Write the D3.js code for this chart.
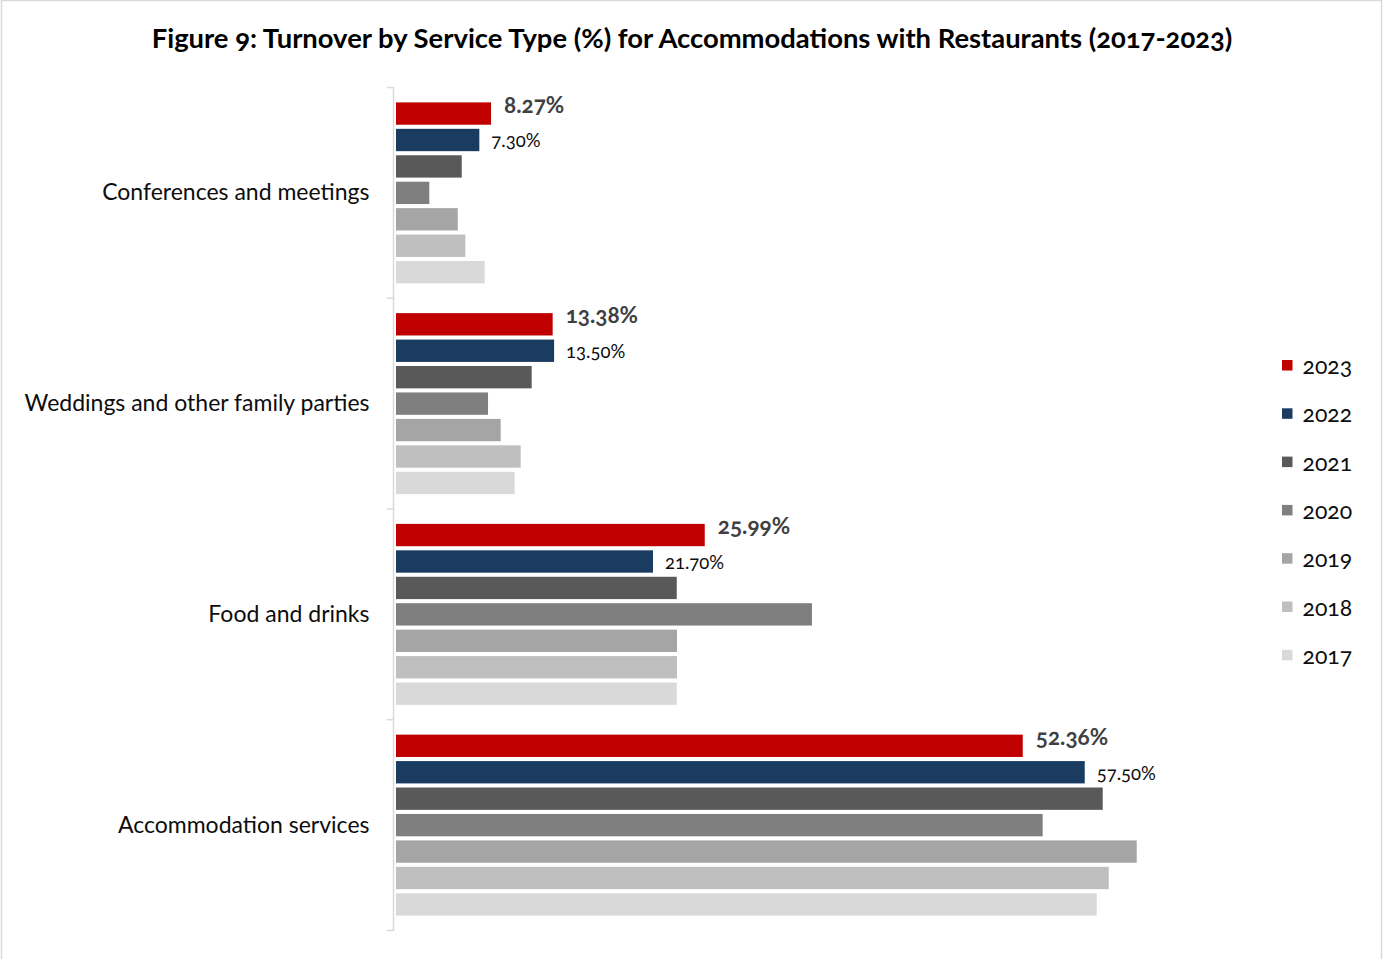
<!DOCTYPE html>
<html>
<head>
<meta charset="utf-8">
<script src="https://cdn.jsdelivr.net/npm/d3@7"></script>
<style>
  body { margin: 0; background: #fff; }
  svg text {
    font-family: Lato, "Open Sans", "Noto Sans", sans-serif;
    font-variant-numeric: oldstyle-nums;
    font-feature-settings: "onum" 1;
  }
</style>
</head>
<body>
<svg id="chart" width="1383" height="959"></svg>
<script>
// Turnover share by service type, one bar per year inside each category
const categories = ["Conferences and meetings", "Weddings and other family parties", "Food and drinks", "Accommodation services"];
const years = ["2023", "2022", "2021", "2020", "2019", "2018", "2017"];
const v2023 = [8.27, 13.38, 25.99, 52.36];
const v2022 = [7.30, 13.50, 21.70, 57.50];
const v2021 = [5.84, 11.64, 23.67, 58.99];
const v2020 = [3.15, 8.02, 34.88, 54.01];
const v2019 = [5.51, 9.07, 23.69, 61.81];
const v2018 = [6.14, 10.73, 23.69, 59.49];
const v2017 = [7.74, 10.23, 23.67, 58.49];
const yearColors = ["#c00000", "#1b3c61", "#595959", "#7f7f7f", "#a5a5a5", "#bfbfbf", "#d9d9d9"];
const titleText = "Figure 9: Turnover by Service Type (%) for Accommodations with Restaurants (2017-2023)";

const seriesByYear = { "2023": v2023, "2022": v2022, "2021": v2021, "2020": v2020, "2019": v2019, "2018": v2018, "2017": v2017 };
const rows = [];
categories.forEach((c, ci) => years.forEach(y => rows.push({ cat: c, year: y, value: seriesByYear[y][ci] })));

const svg = d3.select("#chart");

// outer frame of the chart area
svg.append("rect")
  .attr("x", 1.5).attr("y", 0.5).attr("width", 1380).attr("height", 980)
  .attr("fill", "none").attr("stroke", "#d9d9d9").attr("stroke-width", 1.5);

// title
svg.append("text")
  .attr("x", 692).attr("y", 48)
  .attr("text-anchor", "middle")
  .attr("font-weight", 700).attr("font-size", 27.4).attr("fill", "#000")
  .text(titleText);

// scales
const x = d3.scaleLinear().domain([0, 70]).range([391.3, 1235.5]);
const y0 = d3.scaleBand().domain(categories).range([87.5, 930.5]).padding(0);
const y1 = d3.scaleBand().domain(years).range([0, y0.bandwidth()])
  .paddingInner(0.155).paddingOuter(0.563);
const color = d3.scaleOrdinal().domain(years).range(yearColors);

const barStart = x(0) + 4.7;
const axisX = x(0) + 2.2;

// bars
svg.append("g").selectAll("rect")
  .data(rows)
  .join("rect")
  .attr("x", barStart)
  .attr("y", d => y0(d.cat) + y1(d.year))
  .attr("width", d => x(d.value) - barStart)
  .attr("height", y1.bandwidth())
  .attr("fill", d => color(d.year));

// category axis: line with ticks at the category boundaries
const axisG = svg.append("g");
axisG.append("line")
  .attr("x1", axisX).attr("x2", axisX)
  .attr("y1", y0.range()[0]).attr("y2", y0.range()[1])
  .attr("stroke", "#d9d9d9").attr("stroke-width", 1.5);
const bounds = categories.map(c => y0(c)).concat([y0.range()[1]]);
axisG.selectAll("line.tick").data(bounds).join("line")
  .attr("class", "tick")
  .attr("x1", axisX - 6.5).attr("x2", axisX)
  .attr("y1", d => d).attr("y2", d => d)
  .attr("stroke", "#d9d9d9").attr("stroke-width", 1.5);

// category labels through a d3 axis
const labelAxis = svg.append("g")
  .attr("transform", `translate(${axisX},0)`)
  .call(d3.axisLeft(y0).tickSize(0).tickPadding(24));
labelAxis.select(".domain").remove();
labelAxis.selectAll("text")
  .attr("font-size", 23).attr("fill", "#0d0d0d")
  .attr("font-family", null);

// value labels for the two most recent years
const lab23 = rows.filter(d => d.year === "2023");
const lab22 = rows.filter(d => d.year === "2022");
svg.append("g").selectAll("text").data(lab23).join("text")
  .attr("x", d => x(d.value) + 13)
  .attr("y", d => y0(d.cat) + y1(d.year) + y1.bandwidth() / 2 - 1)
  .attr("font-size", 22.5).attr("font-weight", 700).attr("fill", "#404040")
  .text(d => d.value.toFixed(2) + "%");
svg.append("g").selectAll("text").data(lab22).join("text")
  .attr("x", d => x(d.value) + 12)
  .attr("y", d => y0(d.cat) + y1(d.year) + y1.bandwidth() / 2 + 7.5)
  .attr("font-size", 18.5).attr("fill", "#0d0d0d")
  .text(d => d.value.toFixed(2) + "%");

// legend
const legend = svg.append("g").attr("transform", "translate(1282,360)");
const item = legend.selectAll("g").data(years).join("g")
  .attr("transform", (d, i) => `translate(0,${i * 48.3})`);
item.append("rect").attr("width", 10.5).attr("height", 10.5).attr("fill", d => color(d));
item.append("text").attr("x", 20.5).attr("y", 14)
  .attr("font-size", 23).attr("fill", "#0d0d0d")
  .text(d => d);
</script>
</body>
</html>
